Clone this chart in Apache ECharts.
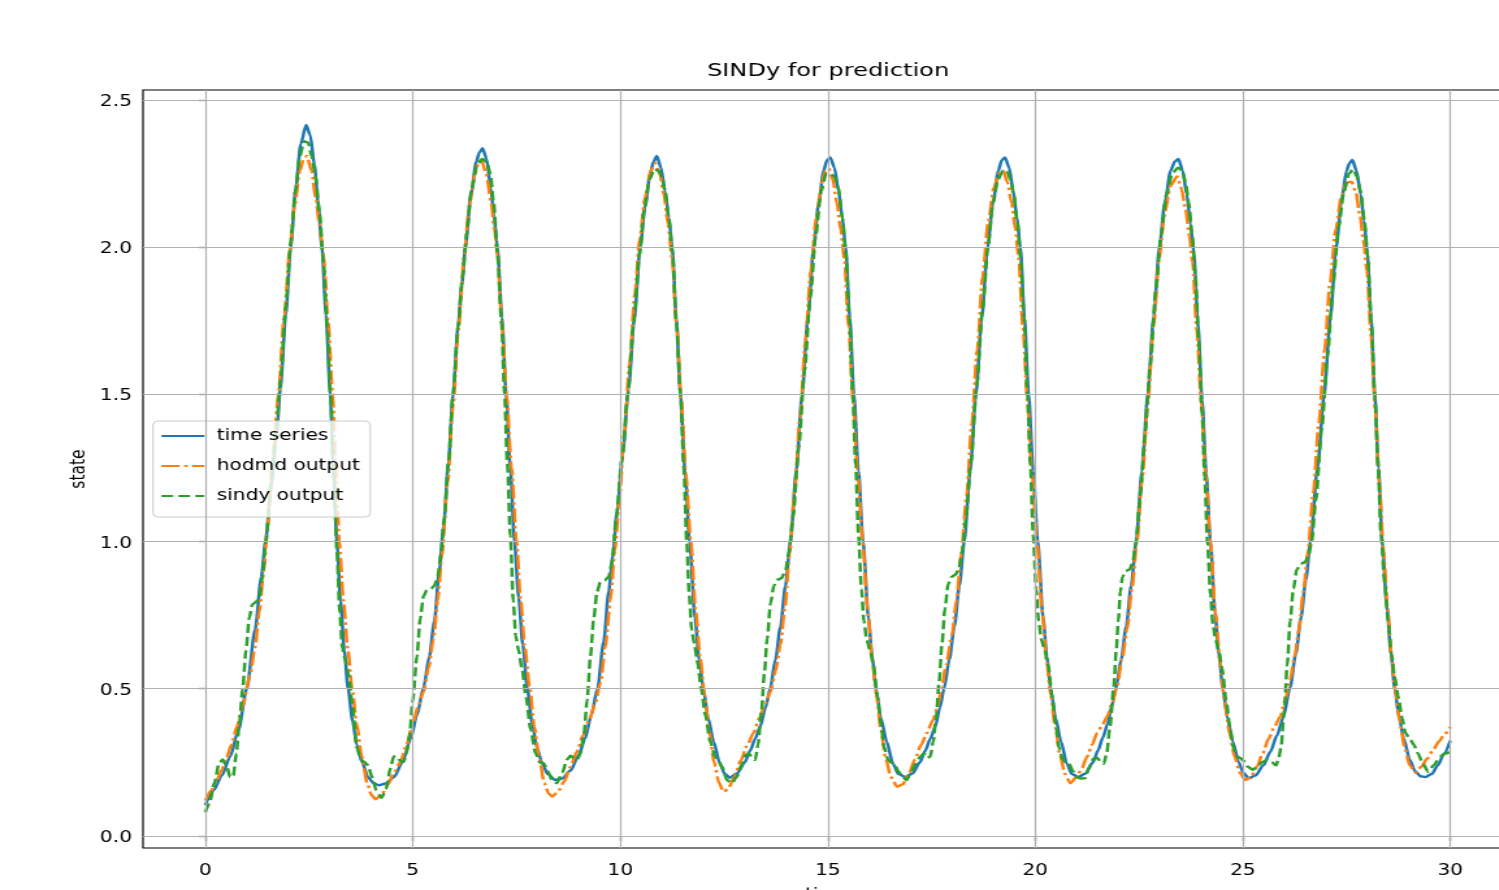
<!DOCTYPE html>
<html>
<head>
<meta charset="utf-8">
<title>SINDy for prediction</title>
<script src="https://cdn.jsdelivr.net/npm/echarts@6.0.0/dist/echarts.min.js"></script>
<style>
  html, body { margin: 0; padding: 0; background: #fff; overflow: hidden; }
  #frame { width: 1499px; height: 890px; overflow: hidden; }
  /* the figure is laid out narrow and widened horizontally */
  #chart { width: 1153px; height: 890px; transform: scaleX(1.3); transform-origin: 0 0; }
</style>
</head>
<body>
<div id="frame"><div id="chart"></div></div>
<script>
// Tick positions
const xTicks = [0, 5, 10, 15, 20, 25, 30];
const yTicks = [0, 0.5, 1.0, 1.5, 2.0, 2.5];

const seriesNames = ['time series', 'hodmd output', 'sindy output'];

// Measured signal: [t, state]
const timeSeries = [
  [0,0.105],[0.2,0.155],[0.4,0.205],[0.6,0.27],[0.8,0.36],[1.0,0.5],[1.2,0.7],[1.35,0.88],[1.45,1.0],[1.6,1.2],[1.72,1.37],[1.81,1.52],[1.94,1.77],[2.06,2.0],[2.18,2.2],[2.3,2.35],[2.43,2.415],
  [2.53,2.38],[2.63,2.28],[2.72,2.15],[2.81,2.0],[2.91,1.77],[3.01,1.5],[3.09,1.25],[3.17,1.0],[3.26,0.8],[3.35,0.63],[3.44,0.5],[3.55,0.39],[3.65,0.31],[3.78,0.25],[3.92,0.2],[4.05,0.18],[4.18,0.172],
  [4.35,0.178],[4.55,0.2],[4.75,0.25],[4.95,0.33],[5.1,0.41],[5.26,0.505],[5.4,0.61],[5.52,0.73],[5.64,0.9],[5.74,1.05],[5.86,1.27],[5.97,1.5],[6.09,1.73],[6.18,1.87],[6.27,2.0],[6.4,2.18],[6.53,2.29],[6.6,2.32],[6.68,2.336],
  [6.78,2.3],[6.88,2.2],[6.96,2.1],[7.04,2.0],[7.15,1.76],[7.25,1.5],[7.35,1.25],[7.45,1.0],[7.55,0.81],[7.65,0.65],[7.76,0.5],[7.88,0.38],[7.99,0.3],[8.12,0.245],[8.25,0.21],[8.43,0.19],
  [8.6,0.195],[8.8,0.222],[9.0,0.275],[9.15,0.33],[9.3,0.41],[9.45,0.5],[9.6,0.66],[9.72,0.83],[9.82,0.95],[9.92,1.1],[10.06,1.3],[10.2,1.52],[10.34,1.76],[10.48,2.0],[10.6,2.14],[10.72,2.25],[10.8,2.29],[10.88,2.31],
  [10.98,2.27],[11.08,2.19],[11.17,2.1],[11.25,2.0],[11.35,1.76],[11.45,1.5],[11.56,1.24],[11.67,1.0],[11.8,0.74],[11.9,0.6],[12.0,0.5],[12.12,0.4],[12.25,0.32],[12.4,0.245],[12.52,0.21],[12.64,0.198],
  [12.81,0.212],[13.0,0.25],[13.13,0.29],[13.25,0.33],[13.37,0.371],[13.5,0.435],[13.61,0.5],[13.74,0.6],[13.86,0.711],[13.98,0.85],[14.1,1.0],[14.24,1.24],[14.38,1.5],[14.52,1.76],[14.66,2.0],[14.78,2.15],[14.9,2.26],[14.98,2.295],[15.06,2.305],
  [15.16,2.27],[15.26,2.19],[15.35,2.1],[15.43,2.0],[15.53,1.76],[15.63,1.5],[15.74,1.24],[15.85,1.0],[15.98,0.74],[16.07,0.61],[16.16,0.5],[16.28,0.4],[16.42,0.32],[16.57,0.245],[16.7,0.21],[16.87,0.2],
  [17.04,0.212],[17.22,0.25],[17.35,0.29],[17.47,0.33],[17.59,0.371],[17.7,0.435],[17.8,0.5],[17.93,0.6],[18.05,0.711],[18.17,0.85],[18.29,1.0],[18.43,1.24],[18.57,1.5],[18.71,1.76],[18.85,2.0],[18.98,2.15],[19.11,2.26],[19.19,2.295],[19.27,2.305],
  [19.37,2.27],[19.47,2.19],[19.56,2.1],[19.64,2.0],[19.74,1.76],[19.84,1.5],[19.95,1.24],[20.06,1.0],[20.19,0.74],[20.28,0.61],[20.37,0.5],[20.49,0.4],[20.62,0.32],[20.76,0.245],[20.88,0.21],[21.04,0.2],
  [21.21,0.212],[21.39,0.25],[21.51,0.29],[21.63,0.335],[21.74,0.38],[21.84,0.44],[21.94,0.5],[22.07,0.6],[22.19,0.711],[22.31,0.85],[22.43,1.0],[22.57,1.24],[22.71,1.5],[22.85,1.76],[22.99,2.0],[23.12,2.15],[23.26,2.26],[23.36,2.29],[23.45,2.3],
  [23.55,2.26],[23.65,2.18],[23.74,2.08],[23.82,1.98],[23.92,1.74],[24.02,1.48],[24.12,1.23],[24.22,1.0],[24.33,0.76],[24.42,0.62],[24.52,0.5],[24.63,0.4],[24.76,0.32],[24.9,0.25],[25.01,0.215],[25.14,0.196],
  [25.3,0.205],[25.5,0.24],[25.66,0.285],[25.82,0.34],[25.98,0.405],[26.14,0.505],[26.28,0.62],[26.4,0.74],[26.52,0.87],[26.63,1.0],[26.8,1.25],[26.96,1.5],[27.11,1.76],[27.25,2.0],[27.38,2.16],[27.5,2.26],[27.57,2.285],[27.64,2.296],
  [27.74,2.26],[27.84,2.18],[27.92,2.09],[28.0,1.98],[28.09,1.76],[28.18,1.5],[28.27,1.25],[28.36,1.0],[28.47,0.78],[28.57,0.62],[28.66,0.5],[28.77,0.4],[28.88,0.33],[29.02,0.26],[29.15,0.22],[29.28,0.203],[29.4,0.2],[29.55,0.21],[29.7,0.24],[29.85,0.28],[30.0,0.324]
];

// HODMD reconstruction: [t, state]
const hodmdOutput = [
  [0,0.12],[0.15,0.155],[0.28,0.19],[0.4,0.225],[0.5,0.26],[0.63,0.31],[0.76,0.37],[0.9,0.44],[1.08,0.547],[1.2,0.64],[1.3,0.76],[1.41,0.9],[1.5,1.05],[1.62,1.27],[1.76,1.5],[1.9,1.76],[2.03,1.98],[2.15,2.14],[2.28,2.26],[2.37,2.3],[2.45,2.31],
  [2.56,2.26],[2.66,2.17],[2.75,2.08],[2.85,1.97],[2.96,1.75],[3.07,1.5],[3.15,1.25],[3.23,1.0],[3.33,0.8],[3.43,0.64],[3.54,0.5],[3.65,0.38],[3.77,0.27],[3.9,0.18],[4.0,0.14],[4.1,0.125],
  [4.25,0.14],[4.4,0.175],[4.55,0.215],[4.7,0.25],[4.85,0.31],[5.0,0.38],[5.13,0.44],[5.26,0.49],[5.38,0.57],[5.5,0.67],[5.6,0.8],[5.7,0.95],[5.84,1.2],[5.97,1.46],[6.1,1.72],[6.24,1.97],[6.36,2.14],[6.5,2.25],[6.58,2.285],[6.65,2.298],
  [6.77,2.25],[6.88,2.16],[6.97,2.06],[7.04,1.97],[7.15,1.74],[7.26,1.5],[7.38,1.25],[7.5,1.0],[7.6,0.8],[7.7,0.64],[7.82,0.5],[7.93,0.37],[8.05,0.26],[8.17,0.18],[8.27,0.145],[8.36,0.134],
  [8.5,0.15],[8.65,0.185],[8.8,0.235],[8.95,0.285],[9.1,0.34],[9.25,0.395],[9.4,0.45],[9.52,0.52],[9.64,0.64],[9.76,0.8],[9.87,0.97],[9.98,1.15],[10.1,1.37],[10.22,1.6],[10.35,1.84],[10.47,2.03],[10.6,2.17],[10.73,2.26],[10.84,2.285],
  [10.95,2.25],[11.05,2.18],[11.15,2.08],[11.25,1.96],[11.36,1.73],[11.47,1.48],[11.58,1.23],[11.7,1.0],[11.82,0.76],[11.93,0.6],[12.03,0.48],[12.14,0.36],[12.26,0.25],[12.38,0.18],[12.49,0.15],
  [12.6,0.16],[12.75,0.2],[12.9,0.255],[13.05,0.305],[13.21,0.35],[13.35,0.4],[13.5,0.45],[13.62,0.49],[13.74,0.56],[13.86,0.65],[13.97,0.78],[14.08,0.96],[14.2,1.17],[14.33,1.42],[14.46,1.68],[14.59,1.92],[14.72,2.1],[14.86,2.22],[14.94,2.26],[15.02,2.268],
  [15.12,2.23],[15.22,2.15],[15.31,2.06],[15.4,1.96],[15.5,1.73],[15.61,1.48],[15.72,1.23],[15.84,1.0],[15.96,0.77],[16.07,0.6],[16.17,0.48],[16.28,0.36],[16.4,0.26],[16.52,0.2],[16.67,0.167],
  [16.8,0.175],[16.95,0.21],[17.1,0.26],[17.25,0.31],[17.39,0.35],[17.52,0.39],[17.63,0.43],[17.73,0.49],[17.85,0.58],[17.99,0.68],[18.1,0.8],[18.22,0.96],[18.34,1.15],[18.47,1.4],[18.6,1.65],[18.73,1.9],[18.86,2.08],[19.0,2.2],[19.12,2.25],[19.23,2.26],
  [19.33,2.22],[19.43,2.15],[19.52,2.06],[19.6,1.96],[19.7,1.73],[19.81,1.48],[19.92,1.23],[20.04,1.0],[20.16,0.77],[20.27,0.6],[20.37,0.48],[20.48,0.37],[20.6,0.27],[20.72,0.21],[20.84,0.179],
  [21.0,0.2],[21.12,0.23],[21.25,0.27],[21.37,0.31],[21.49,0.35],[21.61,0.375],[21.73,0.405],[21.85,0.45],[21.97,0.507],[22.09,0.6],[22.21,0.7],[22.33,0.84],[22.45,1.0],[22.58,1.22],[22.71,1.47],[22.85,1.73],[22.98,1.96],[23.12,2.12],[23.26,2.21],[23.42,2.24],
  [23.52,2.2],[23.62,2.13],[23.71,2.04],[23.79,1.95],[23.89,1.72],[24.0,1.47],[24.11,1.22],[24.22,1.0],[24.34,0.76],[24.46,0.58],[24.56,0.46],[24.68,0.35],[24.8,0.27],[24.93,0.215],[25.06,0.19],
  [25.2,0.2],[25.34,0.235],[25.48,0.28],[25.62,0.33],[25.76,0.37],[25.9,0.405],[26.02,0.46],[26.14,0.53],[26.25,0.61],[26.35,0.7],[26.46,0.83],[26.57,0.97],[26.7,1.17],[26.83,1.4],[26.97,1.65],[27.1,1.88],[27.24,2.06],[27.37,2.17],[27.5,2.22],[27.62,2.222],
  [27.72,2.19],[27.82,2.11],[27.91,2.02],[27.99,1.92],[28.09,1.7],[28.19,1.45],[28.29,1.2],[28.39,0.97],[28.49,0.77],[28.59,0.6],[28.68,0.49],[28.78,0.39],[28.9,0.3],[29.02,0.24],[29.16,0.215],[29.3,0.235],[29.44,0.262],[29.58,0.29],[29.72,0.32],[29.86,0.345],[30.0,0.37]
];

// SINDy model integration: [t, state]
const sindyOutput = [
  [0,0.08],[0.1,0.11],[0.22,0.18],[0.33,0.245],[0.42,0.26],[0.52,0.235],[0.6,0.2],[0.67,0.2],[0.75,0.28],[0.82,0.38],[0.9,0.5],[0.98,0.63],[1.06,0.74],[1.13,0.785],[1.22,0.795],[1.3,0.81],[1.38,0.88],[1.46,1.0],[1.6,1.22],[1.72,1.4],[1.82,1.56],[1.94,1.8],[2.06,2.02],[2.17,2.19],[2.28,2.31],[2.38,2.36],[2.48,2.355],[2.56,2.31],
  [2.66,2.24],[2.75,2.12],[2.85,1.95],[2.94,1.72],[3.02,1.5],[3.1,1.22],[3.17,0.97],[3.24,0.76],[3.3,0.64],[3.37,0.6],[3.45,0.55],[3.55,0.44],[3.65,0.3],[3.75,0.26],[3.84,0.25],[3.92,0.24],[4.02,0.2],[4.12,0.155],[4.25,0.13],
  [4.36,0.16],[4.46,0.23],[4.54,0.27],[4.62,0.27],[4.7,0.255],[4.78,0.252],[4.85,0.28],[4.92,0.34],[5.0,0.46],[5.1,0.61],[5.18,0.74],[5.26,0.815],[5.34,0.835],[5.44,0.84],[5.52,0.85],[5.6,0.88],[5.68,0.96],[5.76,1.08],[5.86,1.27],[5.97,1.5],[6.09,1.73],[6.2,1.9],[6.3,2.05],[6.42,2.2],[6.55,2.28],[6.68,2.3],[6.78,2.29],[6.87,2.25],
  [6.95,2.15],[7.04,1.98],[7.14,1.74],[7.21,1.5],[7.28,1.26],[7.35,1.02],[7.42,0.8],[7.48,0.68],[7.55,0.63],[7.63,0.57],[7.73,0.47],[7.84,0.36],[7.96,0.28],[8.06,0.25],[8.15,0.247],[8.25,0.22],[8.36,0.19],[8.47,0.179],
  [8.6,0.215],[8.72,0.26],[8.8,0.272],[8.88,0.265],[8.96,0.258],[9.04,0.28],[9.12,0.34],[9.2,0.46],[9.28,0.61],[9.36,0.74],[9.44,0.83],[9.52,0.862],[9.62,0.868],[9.72,0.88],[9.8,0.93],[9.9,1.08],[10.04,1.28],[10.18,1.5],[10.32,1.74],[10.46,1.97],[10.58,2.13],[10.7,2.23],[10.82,2.265],[10.92,2.26],[11.0,2.24],
  [11.08,2.19],[11.17,2.1],[11.26,1.98],[11.35,1.74],[11.45,1.5],[11.53,1.25],[11.6,1.0],[11.66,0.82],[11.72,0.7],[11.78,0.655],[11.86,0.59],[11.95,0.5],[12.05,0.41],[12.17,0.32],[12.28,0.27],[12.36,0.258],[12.45,0.235],[12.57,0.19],[12.69,0.179],
  [12.8,0.2],[12.92,0.24],[13.02,0.275],[13.1,0.28],[13.18,0.265],[13.25,0.258],[13.32,0.31],[13.4,0.42],[13.47,0.55],[13.54,0.67],[13.62,0.79],[13.7,0.85],[13.78,0.87],[13.88,0.875],[13.98,0.9],[14.06,0.96],[14.16,1.08],[14.3,1.32],[14.44,1.58],[14.58,1.83],[14.71,2.04],[14.84,2.19],[14.96,2.25],[15.06,2.25],[15.16,2.24],
  [15.26,2.2],[15.35,2.1],[15.44,1.97],[15.52,1.76],[15.6,1.5],[15.67,1.26],[15.74,1.02],[15.81,0.84],[15.87,0.73],[15.94,0.665],[16.02,0.63],[16.1,0.58],[16.2,0.47],[16.28,0.38],[16.36,0.3],[16.45,0.26],[16.52,0.25],[16.6,0.245],[16.7,0.22],[16.8,0.2],[16.9,0.19],
  [17.0,0.215],[17.12,0.245],[17.23,0.27],[17.32,0.28],[17.4,0.265],[17.47,0.27],[17.54,0.32],[17.61,0.4],[17.68,0.52],[17.75,0.65],[17.82,0.77],[17.9,0.855],[17.98,0.88],[18.08,0.888],[18.16,0.91],[18.24,0.97],[18.33,1.08],[18.45,1.27],[18.59,1.53],[18.73,1.79],[18.86,2.0],[18.98,2.15],[19.1,2.23],[19.22,2.26],[19.32,2.26],[19.4,2.23],
  [19.48,2.18],[19.56,2.09],[19.65,1.96],[19.73,1.76],[19.81,1.5],[19.88,1.26],[19.95,1.02],[20.02,0.84],[20.08,0.73],[20.15,0.665],[20.23,0.63],[20.31,0.58],[20.41,0.47],[20.49,0.38],[20.57,0.3],[20.66,0.26],[20.73,0.25],[20.81,0.245],[20.91,0.22],[21.0,0.2],[21.09,0.195],
  [21.2,0.196],[21.3,0.235],[21.4,0.262],[21.5,0.265],[21.58,0.25],[21.65,0.245],[21.72,0.28],[21.8,0.37],[21.89,0.507],[21.95,0.63],[22.0,0.73],[22.05,0.83],[22.1,0.88],[22.18,0.9],[22.27,0.905],[22.35,0.93],[22.42,0.99],[22.52,1.14],[22.64,1.36],[22.77,1.6],[22.9,1.85],[23.03,2.04],[23.16,2.18],[23.3,2.25],[23.44,2.27],[23.54,2.26],[23.62,2.22],
  [23.7,2.15],[23.78,2.04],[23.86,1.9],[23.94,1.68],[24.02,1.43],[24.08,1.22],[24.15,0.99],[24.22,0.82],[24.28,0.72],[24.34,0.67],[24.42,0.63],[24.5,0.57],[24.6,0.46],[24.69,0.37],[24.77,0.3],[24.86,0.27],[24.94,0.265],[25.02,0.255],[25.12,0.235],[25.24,0.225],
  [25.35,0.235],[25.46,0.25],[25.6,0.26],[25.7,0.25],[25.8,0.24],[25.86,0.26],[25.92,0.3],[26.0,0.43],[26.07,0.58],[26.14,0.73],[26.22,0.84],[26.3,0.905],[26.4,0.925],[26.5,0.93],[26.58,0.95],[26.66,1.0],[26.76,1.14],[26.9,1.38],[27.04,1.63],[27.18,1.88],[27.31,2.07],[27.44,2.19],[27.56,2.25],[27.66,2.265],[27.75,2.24],
  [27.84,2.19],[27.93,2.09],[28.01,1.97],[28.1,1.74],[28.18,1.5],[28.26,1.25],[28.33,1.02],[28.42,0.86],[28.5,0.73],[28.58,0.62],[28.66,0.54],[28.75,0.47],[28.84,0.4],[28.92,0.35],[29.04,0.326],[29.12,0.31],[29.22,0.28],[29.34,0.245],[29.47,0.218],[29.6,0.24],[29.76,0.27],[29.88,0.28],[30.0,0.286]
];

const FONT = 'DejaVu Sans';
const BLUE = '#1f77b4', ORANGE = '#ff7f0e', GREEN = '#2ca02c';

const chart = echarts.init(document.getElementById('chart'), null, { renderer: 'canvas' });

// light grid lines across the whole axes box, kept beneath the curves
const gridLines = {
  type: 'line',
  data: [],
  z: 1,
  silent: true,
  markLine: {
    silent: true,
    animation: false,
    symbol: ['none', 'none'],
    label: { show: false },
    emphasis: { disabled: true },
    lineStyle: { color: '#b0b0b0', width: 1.2, type: 'solid' },
    data: xTicks.map(v => ({ xAxis: v })).concat(yTicks.map(v => ({ yAxis: v })))
  }
};

function curve(name, data, color, dash) {
  return {
    name: name,
    type: 'line',
    data: data,
    z: 3,
    symbol: 'none',
    showSymbol: false,
    smooth: 0.25,
    smoothMonotone: 'x',
    lineStyle: { color: color, width: 2.5, type: dash, cap: 'butt' },
    itemStyle: { color: color },
    emphasis: { disabled: true }
  };
}

chart.setOption({
  animation: false,
  backgroundColor: '#fff',
  textStyle: { fontFamily: FONT },
  title: {
    text: 'SINDy for prediction',
    left: 632,
    top: 57,
    textAlign: 'center',
    textStyle: { fontFamily: FONT, fontSize: 18.5, fontWeight: 'normal', color: '#000' }
  },
  legend: {
    orient: 'vertical',
    left: 117.7,
    top: 421,
    padding: [6, 8, 12, 5.5],
    itemWidth: 33,
    itemHeight: 18,
    itemGap: 12,
    backgroundColor: 'rgba(255,255,255,0.8)',
    borderColor: '#cccccc',
    borderWidth: 1,
    borderRadius: 4,
    itemStyle: { opacity: 0 },
    data: seriesNames,
    textStyle: { fontFamily: FONT, fontSize: 15.5, color: '#000', lineHeight: 18, padding: [0, 0, 0, 4.5] }
  },
  grid: {
    show: true,
    left: 110,
    right: -10.5,
    top: 90,
    bottom: 42,
    outerBoundsMode: 'none',
    containLabel: false,
    borderColor: '#000',
    borderWidth: 1.2,
    backgroundColor: 'transparent'
  },
  xAxis: {
    type: 'value',
    min: -1.5,
    max: 31.5,
    name: 'time',
    nameLocation: 'middle',
    nameGap: 39,
    nameMoveOverlap: false,
    nameTextStyle: { fontFamily: FONT, fontSize: 15.5, color: '#000' },
    axisLine: { show: false },
    axisTick: { show: true, customValues: xTicks, length: 5, lineStyle: { color: '#000', width: 1.2 } },
    axisLabel: {
      customValues: xTicks, margin: 15,
      fontFamily: FONT, fontSize: 15.5, color: '#000',
      formatter: v => String(v)
    },
    splitLine: { show: false }
  },
  yAxis: {
    type: 'value',
    min: -0.041,
    max: 2.534,
    name: 'state',
    nameLocation: 'middle',
    nameRotate: 90,
    nameGap: 41,
    nameMoveOverlap: false,
    nameTextStyle: { fontFamily: FONT, fontSize: 15.5, color: '#000' },
    axisLine: { show: false },
    axisTick: { show: true, customValues: yTicks, length: 5, lineStyle: { color: '#000', width: 1.2 } },
    axisLabel: {
      customValues: yTicks, margin: 8.5,
      formatter: v => '{t|' + v.toFixed(1) + '}',
      rich: {
        t: { fontFamily: FONT, fontSize: 15.5, color: '#000', padding: [4, 0, 0, 0] }
      }
    },
    splitLine: { show: false }
  },
  series: [
    gridLines,
    curve(seriesNames[0], timeSeries, BLUE, 'solid'),
    curve(seriesNames[1], hodmdOutput, ORANGE, [14, 3.5, 2.5, 3.5]),
    curve(seriesNames[2], sindyOutput, GREEN, [9, 4])
  ]
});
</script>
</body>
</html>
